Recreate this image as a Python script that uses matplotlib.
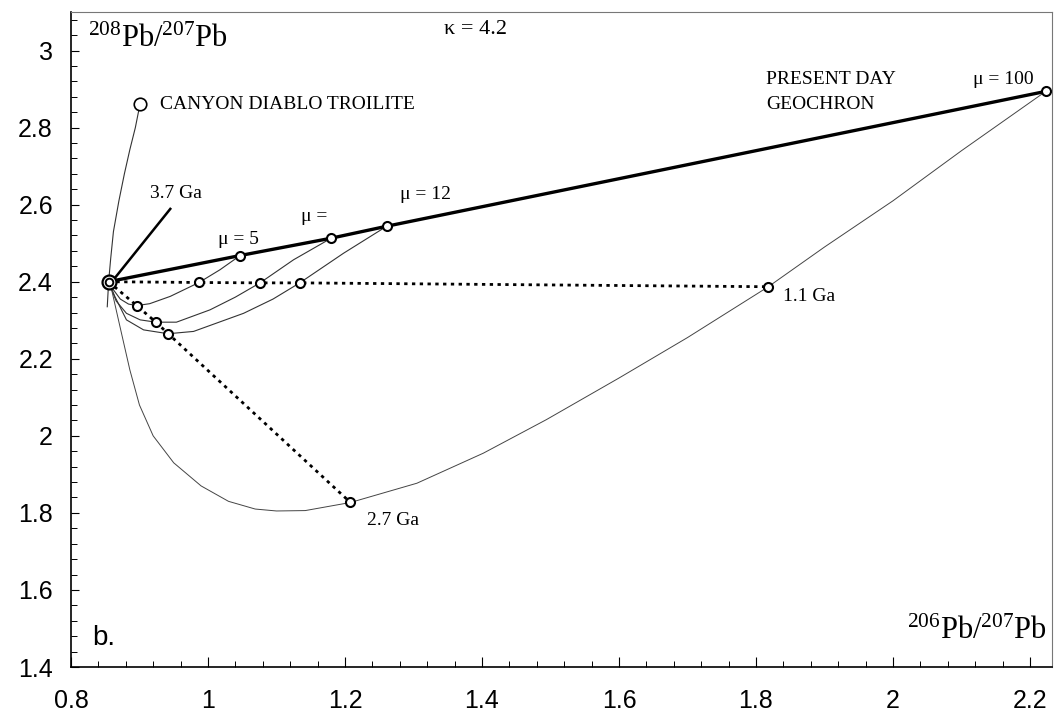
import matplotlib
matplotlib.use("Agg")
import matplotlib.pyplot as plt
from matplotlib.ticker import MultipleLocator, FormatStrFormatter

plt.rcParams['mathtext.fontset'] = 'custom'
plt.rcParams['mathtext.rm'] = 'Liberation Serif'
plt.rcParams['mathtext.it'] = 'Liberation Serif:italic'

SERIF = 'Liberation Serif'
SANS = 'Liberation Sans'

# primordial lead and Canyon Diablo troilite
primordial = (0.855, 2.400)
cdt = (0.9007, 2.860)

# curve from below primordial up to CDT
cdt_x = [0.853, 0.855, 0.858, 0.862, 0.870, 0.878, 0.886, 0.894, 0.9007]
cdt_y = [2.335, 2.400, 2.460, 2.530, 2.610, 2.680, 2.743, 2.800, 2.860]

# present-day geochron and the points on it
geochron_x = [0.855, 1.047, 1.180, 1.261, 2.223]
geochron_y = [2.400, 2.468, 2.513, 2.544, 2.894]

# 3.7 Ga pointer line
ga37_x = [0.862, 0.945]
ga37_y = [2.405, 2.589]

# isochrons
iso11_x = [0.855, 0.987, 1.076, 1.134, 1.818]
iso11_y = [2.400, 2.398, 2.397, 2.397, 2.387]
iso27_x = [0.855, 0.896, 0.924, 0.942, 1.208]
iso27_y = [2.400, 2.338, 2.295, 2.265, 1.827]

# growth curves
mu5_x = [0.855, 0.862, 0.872, 0.884, 0.896, 0.915, 0.945, 0.987, 1.0175, 1.047]
mu5_y = [2.400, 2.379, 2.355, 2.342, 2.338, 2.343, 2.362, 2.398, 2.431, 2.468]

mu8_x = [0.855, 0.866, 0.881, 0.901, 0.924, 0.954, 1.003, 1.040, 1.076, 1.125, 1.180]
mu8_y = [2.400, 2.350, 2.318, 2.301, 2.295, 2.295, 2.327, 2.360, 2.397, 2.457, 2.513]

mu12_x = [0.855, 0.864, 0.881, 0.906, 0.942, 0.979, 1.052, 1.095, 1.134, 1.198, 1.261]
mu12_y = [2.400, 2.362, 2.301, 2.275, 2.265, 2.271, 2.318, 2.355, 2.397, 2.474, 2.544]

mu100_x = [0.855, 0.858, 0.872, 0.886, 0.900, 0.920, 0.950, 0.990, 1.030, 1.069, 1.100,
           1.142, 1.208, 1.305, 1.402, 1.494, 1.600, 1.700, 1.818, 1.900, 2.000, 2.100, 2.223]
mu100_y = [2.400, 2.390, 2.280, 2.171, 2.080, 2.000, 1.930, 1.870, 1.830, 1.810, 1.805,
           1.806, 1.827, 1.877, 1.955, 2.042, 2.150, 2.255, 2.387, 2.490, 2.610, 2.740, 2.894]

fig = plt.figure(figsize=(10.59, 7.19), dpi=100)
ax = fig.add_axes([0.067, 0.0723, 0.9263, 0.911])

thin = dict(color='#333333', lw=0.8)
ax.plot(cdt_x, cdt_y, **thin)
ax.plot(mu5_x, mu5_y, **thin)
ax.plot(mu8_x, mu8_y, **thin)
ax.plot(mu12_x, mu12_y, **thin)
ax.plot(mu100_x, mu100_y, color='#444444', lw=0.7)

ax.plot(geochron_x, geochron_y, color='black', lw=2.4, solid_capstyle='round')
ax.plot(ga37_x, ga37_y, color='black', lw=1.8)

dots = dict(color='black', lw=2.0, linestyle=(0, (1.2, 1.6)))
ax.plot(iso11_x, iso11_y, **dots)
ax.plot(iso27_x, iso27_y, **dots)

mk = dict(marker='o', ms=6.5, mfc='white', mec='black', mew=1.5, ls='none')
ax.plot(geochron_x[1:], geochron_y[1:], **mk)
ax.plot(iso11_x[1:], iso11_y[1:], **mk)
ax.plot(iso27_x[1:], iso27_y[1:], **mk)
ax.plot([cdt[0]], [cdt[1]], marker='o', ms=9, mfc='white', mec='black', mew=1.2, ls='none')
ax.plot([primordial[0]], [primordial[1]], marker='o', ms=10, mfc='white', mec='black', mew=1.6, ls='none')
ax.plot([primordial[0]], [primordial[1]], marker='o', ms=5.5, mfc='white', mec='black', mew=1.4, ls='none')

ax.set_xlim(0.8, 2.232)
ax.set_ylim(1.4, 3.10)
ax.xaxis.set_major_locator(MultipleLocator(0.2))
ax.xaxis.set_minor_locator(MultipleLocator(0.04))
ax.yaxis.set_major_locator(MultipleLocator(0.2))
ax.yaxis.set_minor_locator(MultipleLocator(0.04))
ax.xaxis.set_major_formatter(FormatStrFormatter('%g'))
ax.yaxis.set_major_formatter(FormatStrFormatter('%g'))
ax.tick_params(axis='x', which='major', direction='in', length=7, width=0.8, pad=16)
ax.tick_params(axis='x', which='minor', direction='in', length=4, width=0.7)
ax.tick_params(axis='y', which='major', direction='in', length=6, width=0.8, pad=13)
ax.tick_params(axis='y', which='minor', direction='in', length=4, width=0.7)
for lab in ax.get_xticklabels() + ax.get_yticklabels():
    lab.set_fontfamily(SANS)
    lab.set_fontsize(18)

for s in ['left', 'bottom']:
    ax.spines[s].set_linewidth(1.2)
for s in ['top', 'right']:
    ax.spines[s].set_linewidth(0.8)
    ax.spines[s].set_color('#777777')

txt = dict(family=SERIF, fontsize=14, color='black')
ax.text(0.825, 3.029, r'$^{208}$Pb/$^{207}$Pb', family=SERIF, fontsize=22, va='center', ha='left')
ax.text(1.39, 3.055, 'κ = 4.2', family=SERIF, fontsize=16, va='center', ha='center')
ax.text(0.930, 2.860, 'CANYON DIABLO TROILITE', va='center', ha='left', **txt)
ax.text(0.916, 2.630, '3.7 Ga', va='center', ha='left', **txt)
ax.text(1.044, 2.509, 'μ = 5', va='center', ha='center', **txt)
ax.text(1.155, 2.570, 'μ =', va='center', ha='center', **txt)
ax.text(1.317, 2.626, 'μ = 12', va='center', ha='center', **txt)
ax.text(1.815, 2.925, 'PRESENT DAY', va='center', ha='left', **txt)
ax.text(1.815, 2.860, 'GEOCHRON', va='center', ha='left', **txt)
ax.text(2.161, 2.926, 'μ = 100', va='center', ha='center', **txt)
ax.text(1.840, 2.362, '1.1 Ga', va='center', ha='left', **txt)
ax.text(1.270, 1.780, '2.7 Ga', va='center', ha='center', **txt)
ax.text(2.225, 1.492, r'$^{206}$Pb/$^{207}$Pb', family=SERIF, fontsize=22, va='center', ha='right')
ax.text(0.831, 1.475, 'b.', family=SANS, fontsize=20, va='center', ha='left')

fig.savefig('out.png', dpi=100)
